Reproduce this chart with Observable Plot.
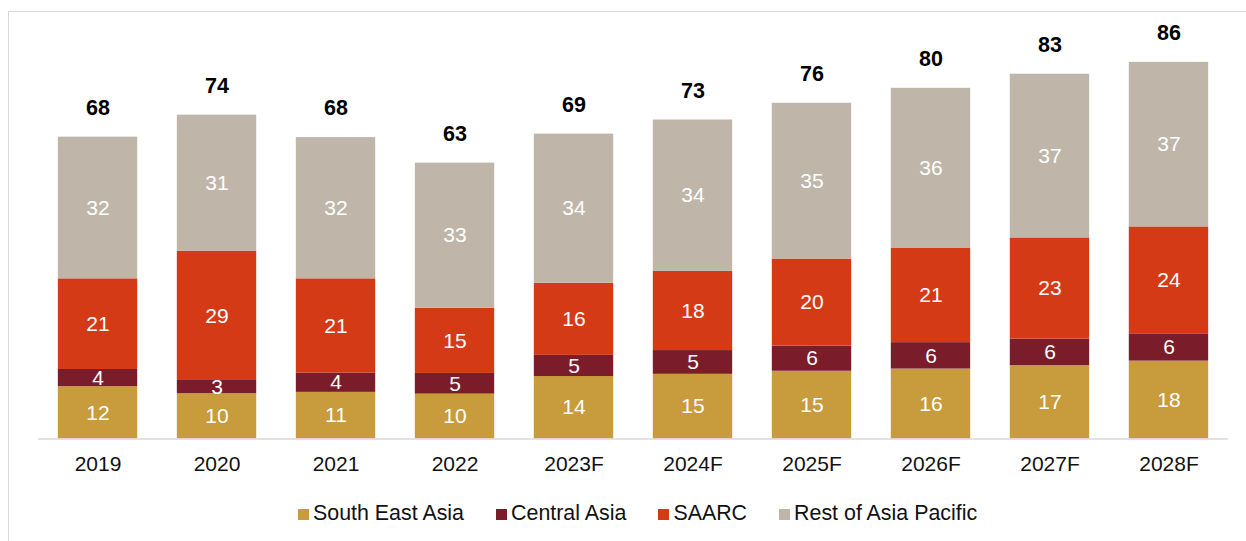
<!DOCTYPE html>
<html>
<head>
<meta charset="utf-8">
<script src="https://cdn.jsdelivr.net/npm/d3@7"></script>
<script src="https://cdn.jsdelivr.net/npm/@observablehq/plot@0.6"></script>
<style>
  html, body { margin: 0; padding: 0; background: #ffffff; }
  #wrap { position: relative; width: 1246px; height: 541px; overflow: hidden;
          font-family: "Liberation Sans", Arial, sans-serif; }
  #frame { position: absolute; left: 8px; top: 11px; right: -2px; bottom: -2px;
           border-top: 1.3px solid #d9d9d9; border-left: 1.3px solid #d9d9d9; }
  #chart { position: absolute; left: 0; top: 0; }
  #legend { position: absolute; left: 298px; top: 501px; display: flex; align-items: center;
            gap: 32px; font-size: 21.4px; color: #111; white-space: nowrap; }
  .item { display: flex; align-items: center; }
  .sw { width: 11px; height: 11px; margin-right: 4px; margin-top: 2px; }
</style>
</head>
<body>
<div id="wrap">
  <div id="frame"></div>
  <div id="chart"></div>
  <div id="legend"></div>
</div>
<script>
const years = ["2019", "2020", "2021", "2022", "2023F", "2024F", "2025F", "2026F", "2027F", "2028F"];
const seriesNames = ["South East Asia", "Central Asia", "SAARC", "Rest of Asia Pacific"];
const southEastAsia = [11.9, 10.3, 10.6, 10.2, 14.2, 14.7, 15.4, 15.9, 16.7, 17.7];
const centralAsia = [3.9, 3.0, 4.4, 4.7, 4.8, 5.4, 5.7, 6.0, 6.0, 6.2];
const saarc = [20.6, 29.4, 21.4, 14.8, 16.4, 18.0, 19.8, 21.4, 23.0, 24.3];
const restOfAsiaPacific = [32.2, 30.9, 32.1, 33.0, 33.9, 34.4, 35.4, 36.4, 37.2, 37.4];
const totals = [68, 74, 68, 63, 69, 73, 76, 80, 83, 86];
const colors = ["#C89B3C", "#7B1C2A", "#D53A17", "#BFB6A9"];

const seriesValues = [southEastAsia, centralAsia, saarc, restOfAsiaPacific];
const data = years.flatMap((year, i) =>
  seriesNames.map((name, s) => ({ year, region: name, value: seriesValues[s][i] })));
const totalRows = years.map((year, i) => ({
  year,
  total: totals[i],
  top: d3.sum(seriesValues, v => v[i])
}));

const fontFamily = '"Liberation Sans", Arial, sans-serif';

const plot = Plot.plot({
  width: 1246,
  height: 490,
  marginLeft: 38,
  marginRight: 18,
  marginTop: 20.5,
  marginBottom: 51.5,
  x: { domain: years, paddingInner: 0.333, paddingOuter: 0.1667, round: false, label: null },
  y: { domain: [0, 95], axis: null },
  color: { domain: seriesNames, range: colors },
  style: { fontFamily, fontSize: "21px", background: "transparent", overflow: "visible" },
  marks: [
    Plot.barY(data, { x: "year", y: "value", fill: "region" }),
    Plot.text(data, Plot.stackY({
      x: "year", y: "value", z: "region",
      text: d => String(Math.round(d.value)),
      fill: "white", fontSize: 21
    })),
    Plot.ruleY([0], { stroke: "#d9d9d9", strokeWidth: 1.5 }),
    Plot.text(totalRows, {
      x: "year", y: "top", text: d => String(d.total),
      dy: -29, fontWeight: "bold", fill: "black", fontSize: 21.5
    }),
    Plot.axisX({ tickSize: 0, tickPadding: 17, fontSize: 21, label: null, color: "#111" })
  ]
});
document.getElementById("chart").appendChild(plot);

const legend = document.getElementById("legend");
seriesNames.forEach((name, i) => {
  const item = document.createElement("div");
  item.className = "item";
  const sw = document.createElement("span");
  sw.className = "sw";
  sw.style.background = colors[i];
  const label = document.createElement("span");
  label.textContent = name;
  item.appendChild(sw);
  item.appendChild(label);
  legend.appendChild(item);
});
</script>
</body>
</html>
